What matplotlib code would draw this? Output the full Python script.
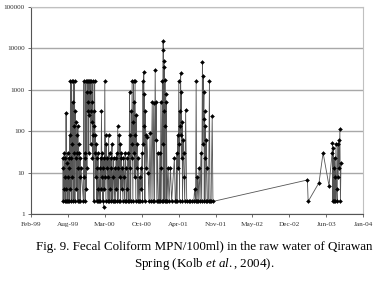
import datetime as dt
import numpy as np
import matplotlib
matplotlib.use('Agg')
import matplotlib.pyplot as plt
import matplotlib.dates as mdates

# sampling dates and fecal coliform MPN/100ml readings
dates = [
    '1999-07-31', '1999-08-02', '1999-08-04', '1999-08-06', '1999-08-08', '1999-08-10', '1999-08-12',
    '1999-08-14', '1999-08-16', '1999-08-18', '1999-08-20', '1999-08-22', '1999-08-24', '1999-08-26',
    '1999-08-28', '1999-08-30', '1999-09-01', '1999-09-03', '1999-09-05', '1999-09-07', '1999-09-09',
    '1999-09-11', '1999-09-13', '1999-09-15', '1999-09-17', '1999-09-19', '1999-09-21', '1999-09-23',
    '1999-09-25', '1999-09-27', '1999-09-29', '1999-10-01', '1999-10-03', '1999-10-05', '1999-10-07',
    '1999-10-09', '1999-10-11', '1999-10-13', '1999-10-15', '1999-10-17', '1999-10-19', '1999-10-21',
    '1999-10-23', '1999-10-25', '1999-10-27', '1999-10-29', '1999-10-31', '1999-11-02', '1999-11-04',
    '1999-11-07',
    '1999-11-20', '1999-11-23', '1999-11-25', '1999-11-27', '1999-11-29', '1999-12-01', '1999-12-03',
    '1999-12-05', '1999-12-07', '1999-12-09', '1999-12-11', '1999-12-13', '1999-12-15', '1999-12-17',
    '1999-12-19', '1999-12-21', '1999-12-23', '1999-12-25', '1999-12-27', '1999-12-29', '1999-12-31',
    '2000-01-02', '2000-01-04', '2000-01-06', '2000-01-08', '2000-01-10', '2000-01-12', '2000-01-14',
    '2000-01-16', '2000-01-18', '2000-01-20', '2000-01-22', '2000-01-24', '2000-01-26', '2000-01-28',
    '2000-01-30', '2000-02-01', '2000-02-03', '2000-02-05', '2000-02-07', '2000-02-09', '2000-02-12',
    '2000-02-17', '2000-02-19', '2000-02-21', '2000-02-23', '2000-02-26', '2000-02-28', '2000-03-01',
    '2000-03-03', '2000-03-05', '2000-03-08', '2000-03-10', '2000-03-12', '2000-03-15', '2000-03-17',
    '2000-03-19', '2000-03-21', '2000-03-24', '2000-03-26', '2000-03-28', '2000-03-31', '2000-04-02',
    '2000-04-05', '2000-04-07', '2000-04-10', '2000-04-12', '2000-04-15', '2000-04-18', '2000-04-20',
    '2000-04-23', '2000-04-26', '2000-04-29', '2000-05-02', '2000-05-05', '2000-05-08', '2000-05-11',
    '2000-05-14', '2000-05-17', '2000-05-19', '2000-05-22', '2000-05-24', '2000-05-27', '2000-05-29',
    '2000-06-01', '2000-06-03', '2000-06-06', '2000-06-08', '2000-06-11', '2000-06-13', '2000-06-16',
    '2000-06-18', '2000-06-21', '2000-06-24', '2000-06-27', '2000-06-30', '2000-07-03', '2000-07-06',
    '2000-07-09', '2000-07-12', '2000-07-15',
    '2000-07-18', '2000-07-21', '2000-07-24', '2000-07-27', '2000-07-29', '2000-07-31', '2000-08-02',
    '2000-08-05', '2000-08-07', '2000-08-10', '2000-08-12', '2000-08-14', '2000-08-16', '2000-08-18',
    '2000-08-20', '2000-08-22', '2000-08-24', '2000-08-26', '2000-08-28', '2000-08-30', '2000-09-01',
    '2000-09-03', '2000-09-06', '2000-09-09', '2000-09-12',
    '2000-09-15', '2000-09-19', '2000-09-22', '2000-09-26', '2000-09-29', '2000-10-02', '2000-10-05',
    '2000-10-08', '2000-10-10', '2000-10-12', '2000-10-14', '2000-10-16', '2000-10-18', '2000-10-20',
    '2000-10-23', '2000-10-26', '2000-10-29',
    '2000-11-05', '2000-11-10', '2000-11-15', '2000-11-20', '2000-11-27', '2000-12-01', '2000-12-05',
    '2000-12-09', '2000-12-13', '2000-12-16', '2000-12-19', '2000-12-22', '2000-12-26', '2000-12-30',
    '2001-01-04', '2001-01-07', '2001-01-10', '2001-01-13', '2001-01-16', '2001-01-18', '2001-01-21',
    '2001-01-23', '2001-01-25', '2001-01-26', '2001-01-27', '2001-01-29', '2001-01-30', '2001-01-31',
    '2001-02-02', '2001-02-04', '2001-02-06', '2001-02-08', '2001-02-10', '2001-02-12', '2001-02-15',
    '2001-02-21', '2001-02-26', '2001-03-06', '2001-03-12', '2001-03-27', '2001-04-01',
    '2001-04-05', '2001-04-08', '2001-04-11', '2001-04-14', '2001-04-17', '2001-04-20', '2001-04-22',
    '2001-04-24', '2001-04-26', '2001-04-28', '2001-04-30', '2001-05-02', '2001-05-04', '2001-05-06',
    '2001-05-08', '2001-05-10', '2001-05-13', '2001-05-16', '2001-05-19', '2001-05-22', '2001-05-27',
    '2001-06-02',
    '2001-06-14', '2001-06-22', '2001-07-02', '2001-07-10', '2001-07-15',
    '2001-07-20', '2001-07-23', '2001-07-26', '2001-07-30', '2001-08-03', '2001-08-08', '2001-08-13',
    '2001-08-18', '2001-08-22', '2001-08-26', '2001-08-28', '2001-08-30', '2001-09-01', '2001-09-03',
    '2001-09-05', '2001-09-07', '2001-09-09', '2001-09-11', '2001-09-13', '2001-09-16', '2001-09-19',
    '2001-09-22', '2001-09-28', '2001-10-03', '2001-10-06', '2001-10-12', '2001-10-18', '2001-10-22',
    '2003-03-18', '2003-03-22', '2003-05-20', '2003-06-11', '2003-07-13',
    '2003-07-30', '2003-08-01', '2003-08-03', '2003-08-05', '2003-08-07', '2003-08-09', '2003-08-12',
    '2003-08-14', '2003-08-16', '2003-08-20', '2003-08-23', '2003-08-26', '2003-08-29', '2003-09-01',
    '2003-09-04', '2003-09-07', '2003-09-10', '2003-09-13', '2003-09-16',
]

mpn = [
    23, 2, 13, 4, 30, 2, 8,
    23, 2, 280, 4, 17, 2, 30,
    8, 2, 23, 13, 2, 80, 4,
    1600, 23, 2, 1600, 50, 8, 500,
    2, 1600, 130, 30, 1600, 2, 300,
    23, 170, 4, 80, 30, 2, 130,
    13, 50, 2, 30, 8, 23, 2,
    13,
    2, 1600, 8, 30, 2, 23, 1600,
    4, 900, 13, 1600, 300, 1600, 500,
    30, 1600, 240, 900, 1600, 50, 300,
    1600, 170, 500, 23, 1600, 80, 300,
    2, 130, 1600, 30, 80, 8, 50,
    2, 23, 13, 2, 30, 4, 2,
    13, 2, 23, 4, 300, 8, 30,
    2, 13, 1.5, 23, 4, 1600, 8,
    80, 2, 50, 13, 23, 2, 8,
    80, 2, 30, 4, 23, 2, 13,
    50, 2, 8, 23, 2, 13, 2,
    23, 4, 30, 2, 130, 13, 2,
    80, 8, 50, 2, 23, 30, 4,
    13, 2, 23, 8, 2, 30, 13,
    2, 4, 23,
    2, 30, 2, 900, 13, 80, 2,
    300, 23, 1600, 50, 2, 170, 1600,
    30, 500, 8, 1600, 80, 2, 240,
    13, 50, 2, 23,
    2, 8, 2, 13, 4, 30, 2,
    1600, 50, 2700, 130, 800, 2, 300,
    80, 13, 72,
    10, 2, 90, 2, 500, 2, 480,
    2, 3000, 60, 500, 2, 30, 2,
    2, 30, 2, 500, 13, 2, 1600,
    50, 15000, 9000, 2, 5000, 300, 3500,
    2, 1700, 130, 800, 2, 500, 2,
    13, 2, 13, 2, 22, 2,
    2, 30, 2, 80, 13, 1600, 50,
    2, 300, 130, 2500, 80, 900, 23,
    170, 2, 60, 30, 8, 2, 330,
    2,
    2, 2, 2, 2, 4,
    2, 1600, 2, 8, 2, 13, 2,
    30, 2, 4700, 50, 2200, 200, 900,
    2, 300, 23, 130, 2, 60, 13,
    2, 2, 1600, 2, 2, 230, 2,
    6.6, 2, 5.7, 30, 4.8,
    30, 52, 2, 40, 13, 2, 23,
    8, 2, 50, 4, 2, 50, 8,
    60, 13, 110, 2, 17,
]

ytick_vals = [1, 10, 100, 1000, 10000, 100000]
ytick_labels = ['1', '10', '100', '1000', '10000', '100000']

# Excel-style date axis: 200-day major unit
axis_start = dt.date(1999, 2, 9)
n_ticks = 10
step_days = 200

plt.rcParams['mathtext.fontset'] = 'custom'
plt.rcParams['mathtext.rm'] = 'Liberation Serif'
plt.rcParams['mathtext.it'] = 'Liberation Serif:italic'

x = [dt.datetime.strptime(d, '%Y-%m-%d') for d in dates]

fig = plt.figure(figsize=(3.80, 2.93), dpi=100)
ax = fig.add_axes([0.0816, 0.270, 0.874, 0.706])

ax.plot(x, mpn, color='#555555', lw=0.6, marker='D', ms=2.0,
        mfc='black', mec='black', mew=0.3, zorder=3)

ax.set_yscale('log')
ax.set_ylim(1, 100000)
ax.set_yticks(ytick_vals)
ax.set_yticklabels(ytick_labels)
ax.yaxis.set_minor_locator(matplotlib.ticker.NullLocator())
ax.grid(axis='y', color='#a8a8a8', lw=1.0, zorder=0)

ticks = [axis_start + dt.timedelta(days=step_days * i) for i in range(n_ticks)]
ax.set_xlim(ticks[0], ticks[-1])
ax.set_xticks(ticks)
ax.xaxis.set_major_formatter(mdates.DateFormatter('%b-%y'))

for lab in ax.get_xticklabels() + ax.get_yticklabels():
    lab.set_family('Liberation Serif')
    lab.set_fontsize(5.2)
    lab.set_color('#333333')
ax.tick_params(axis='both', length=2.5, width=0.6, color='#555555', pad=2)
ax.tick_params(axis='x', pad=3)

ax.spines['left'].set_color('#555555')
ax.spines['bottom'].set_color('#555555')
ax.spines['left'].set_linewidth(0.8)
ax.spines['bottom'].set_linewidth(0.8)
ax.spines['top'].set_color('#c0c0c0')
ax.spines['right'].set_color('#c0c0c0')

fig.text(0.537, 0.157, 'Fig. 9. Fecal Coliform MPN/100ml) in the raw water of Qirawan',
         ha='center', va='center', fontsize=9.4, family='Liberation Serif')
fig.text(0.537, 0.099, r'Spring (Kolb $\mathit{et\ al.}$, 2004).',
         ha='center', va='center', fontsize=9.4, family='Liberation Serif')

fig.savefig('out.png', dpi=100)
